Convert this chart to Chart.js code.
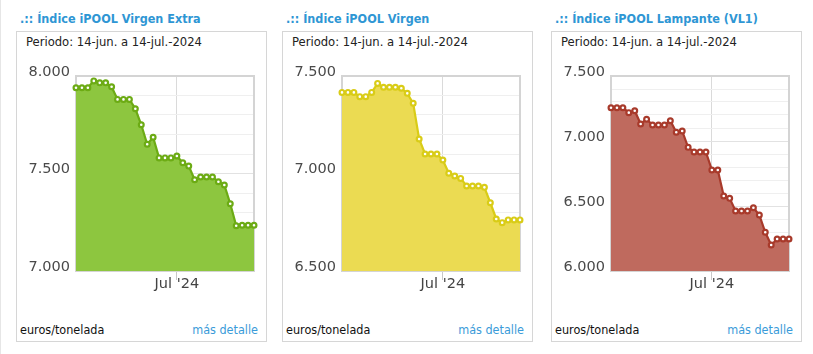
<!DOCTYPE html>
<html>
<head>
<meta charset="utf-8">
<script src="https://cdn.jsdelivr.net/npm/chart.js@4.4.1/dist/chart.umd.min.js"></script>
<style>
  body { margin:0; width:813px; height:354px; overflow:hidden; position:relative; background:#fff;
         font-family:"DejaVu Sans Condensed","DejaVu Sans",sans-serif; }
  .edge { position:absolute; left:0; top:0; width:1px; height:354px; background:#e6e6e6; }
  .panel { position:absolute; top:0; width:251px; height:354px; }
  .title { position:absolute; left:4px; top:11px; line-height:16px; font-size:12.5px; font-weight:bold;
           color:#2e96d4; white-space:nowrap; }
  .box { position:absolute; left:0; top:31px; width:249px; height:309px; border:1px solid #d6d6d6; }
  .period { position:absolute; left:10px; top:34px; line-height:16px; font-size:12.9px; color:#222; white-space:nowrap; }
  .unit { position:absolute; left:4px; top:322px; line-height:16px; font-size:12.5px; color:#111; white-space:nowrap; }
  .more { position:absolute; right:9px; top:322px; line-height:16px; font-size:12.5px; color:#3a9bd9; white-space:nowrap; }
  .panel canvas { position:absolute; left:0; top:56px; }
</style>
</head>
<body>
<div class="edge"></div>

<script>
// ───── iPOOL indices, 14-jun. → 14-jul.-2024 (daily) ──────────────────────
const days = [
  '14-jun', '15-jun', '16-jun', '17-jun', '18-jun', '19-jun', '20-jun', '21-jun',
  '22-jun', '23-jun', '24-jun', '25-jun', '26-jun', '27-jun', '28-jun', '29-jun',
  '30-jun', '01-jul', '02-jul', '03-jul', '04-jul', '05-jul', '06-jul', '07-jul',
  '08-jul', '09-jul', '10-jul', '11-jul', '12-jul', '13-jul', '14-jul',
];
const monthTick = '01-jul';
const monthTickLabel = "Jul '24";

const virgenExtra = [
  7940, 7940, 7940, 7975, 7965, 7965, 7945, 7880, 7880, 7880, 7832,
  7750, 7650, 7686, 7580, 7580, 7580, 7590, 7555, 7538, 7468,
  7482, 7482, 7482, 7458, 7441, 7345, 7232, 7235, 7235, 7235,
];
const virgen = [
  7416, 7416, 7416, 7394, 7394, 7416, 7462, 7442, 7442, 7442, 7437,
  7411, 7360, 7177, 7100, 7100, 7100, 7069, 7001, 6987, 6975,
  6936, 6936, 6936, 6929, 6850, 6767, 6748, 6762, 6762, 6762,
];
const lampante = [
  7256, 7256, 7256, 7218, 7233, 7131, 7167, 7123, 7123, 7123, 7156,
  7067, 7077, 6951, 6915, 6915, 6915, 6777, 6777, 6577, 6559,
  6462, 6462, 6462, 6487, 6431, 6298, 6200, 6246, 6246, 6246,
];

const titles = ['.:: Índice iPOOL Virgen Extra', '.:: Índice iPOOL Virgen', '.:: Índice iPOOL Lampante (VL1)'];
const periodText = 'Periodo: 14-jun. a 14-jul.-2024';
const unitText = 'euros/tonelada';
const moreText = 'más detalle';

function _fmtThousands(v) {
  return String(v).replace(/\B(?=(\d{3})+(?!\d))/g, '.');
}

// plot border drawn round the chart area
const plotFrame = {
  id: 'plotFrame',
  beforeDatasetsDraw(chart) {
    const { ctx, chartArea: a } = chart;
    ctx.save();
    ctx.strokeStyle = '#d4d4d4';
    ctx.lineWidth = 2;
    ctx.strokeRect(a.left, a.top, a.right - a.left, a.bottom - a.top);
    ctx.restore();
  },
};

function makePanel(left, title, values, yMin, yMax, lineColor, fillColor) {
  const panel = document.createElement('div');
  panel.className = 'panel';
  panel.style.left = left + 'px';
  panel.innerHTML =
    `<div class="box"></div>` +
    `<div class="title">${title}</div>` +
    `<div class="period">${periodText}</div>` +
    `<div class="unit">${unitText}</div>` +
    `<div class="more">${moreText}</div>`;
  const canvas = document.createElement('canvas');
  canvas.width = 251;
  canvas.height = 240;
  panel.appendChild(canvas);
  document.body.appendChild(panel);

  const tickIdx = days.indexOf(monthTick);

  new Chart(canvas, {
    type: 'line',
    data: {
      labels: days,
      datasets: [{
        data: values,
        borderColor: lineColor,
        backgroundColor: fillColor,
        fill: 'start',
        borderWidth: 2.2,
        tension: 0,
        pointRadius: 2.4,
        pointBorderWidth: 2.2,
        pointBackgroundColor: '#fff',
        pointBorderColor: lineColor,
        clip: 6,
      }],
    },
    options: {
      responsive: false,
      animation: false,
      devicePixelRatio: 1,
      layout: { padding: { top: 20, right: 13, left: 0, bottom: 0 } },
      plugins: { legend: { display: false }, tooltip: { enabled: false } },
      scales: {
        x: {
          grid: {
            color: (c) => (c.index === tickIdx ? '#dadada' : 'transparent'),
            tickColor: (c) => (c.index === tickIdx ? '#c8c8c8' : 'transparent'),
            tickLength: 9,
          },
          border: { display: false },
          ticks: {
            autoSkip: false,
            maxRotation: 0,
            padding: -4,
            color: '#444',
            font: { family: 'DejaVu Sans', size: 14.5 },
            callback: (v, i) => (i === tickIdx ? monthTickLabel : ''),
          },
          afterFit(s) { s.height = 25; },
        },
        y: {
          min: yMin,
          max: yMax,
          grid: {
            drawTicks: false,
            color: (c) => (c.tick && c.tick.value % 500 === 0 ? '#e2e2e2' : '#efefef'),
          },
          border: { display: false },
          ticks: {
            stepSize: 100,
            autoSkip: false,
            maxTicksLimit: 40,
            padding: 6,
            labelOffset: -4,
            color: '#4a4a4a',
            font: { family: 'DejaVu Sans', size: 14.5 },
            callback: (v) => (v % 500 === 0 ? _fmtThousands(v) : ''),
          },
          afterFit(s) { s.width = 60; },
        },
      },
    },
    plugins: [plotFrame],
  });
}

makePanel(16, titles[0], virgenExtra, 7000, 8000, '#6cab14', '#8dc63f');
makePanel(282, titles[1], virgen, 6500, 7500, '#d9cc17', '#ebdb52');
makePanel(551, titles[2], lampante, 6000, 7500, '#a83a2b', '#bf6a5e');
</script>
</body>
</html>
